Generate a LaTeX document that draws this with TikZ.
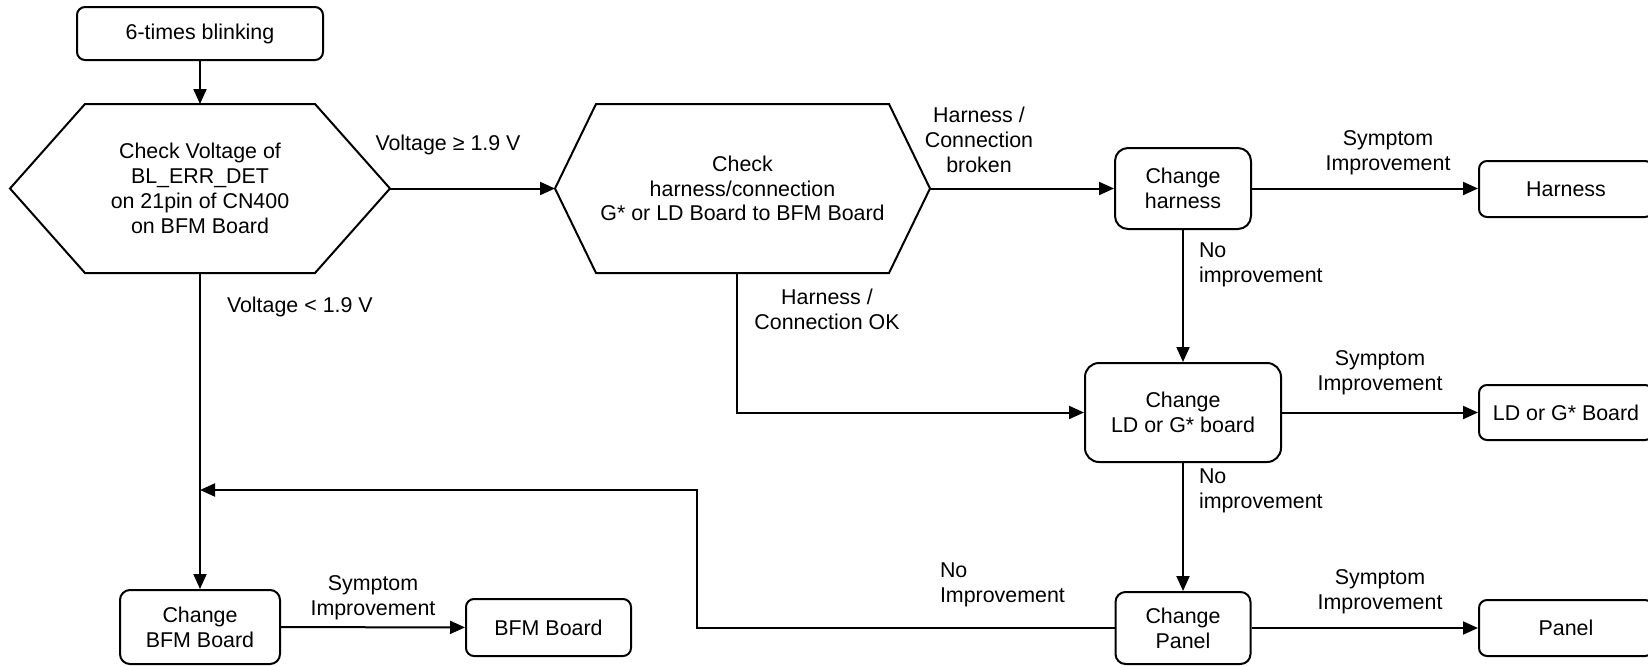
\documentclass[tikz,border=0pt]{standalone}
\usepackage{fontspec}
\setmainfont{Liberation Sans}
\usetikzlibrary{arrows.meta,calc}
\begin{document}
\begin{tikzpicture}[x=0.5pt,y=-0.5pt,
  font=\fontsize{10.7}{12.4}\selectfont,
  line width=1pt,
  arr/.style={-{Triangle[length=7.5pt,width=6.5pt]}},
  rbox/.style={draw, rounded corners=#1, align=center, inner sep=0pt},
  rbox/.default=4pt,
  lbl/.style={align=center, inner sep=0pt},
  lbll/.style={align=left, inner sep=0pt, anchor=west},
  hexn/.style={align=center, inner sep=0pt},
]
\useasboundingbox (0,0) rectangle (1648,665);
\clip (0,0) rectangle (1648,665);

% nodes
\node[rbox, minimum width=123pt, minimum height=26.5pt] (start) at (200,33.5) {6-times blinking};
\node[hexn, minimum width=189pt, minimum height=83.5pt] (h1) at (200,188.5) {Check Voltage of\\BL\_ERR\_DET\\on 21pin of CN400\\on BFM Board};
\draw (h1.west) -- ($(h1.north west)+(75,0)$) -- ($(h1.north east)+(-75,0)$) -- (h1.east)
  -- ($(h1.south east)+(-75,0)$) -- ($(h1.south west)+(75,0)$) -- cycle;
\node[hexn, minimum width=186.5pt, minimum height=83.5pt] (h2) at (742.5,188.5) {Check\\harness/connection\\G* or LD Board to BFM Board};
\draw (h2.west) -- ($(h2.north west)+(41,0)$) -- ($(h2.north east)+(-41,0)$) -- (h2.east)
  -- ($(h2.south east)+(-41,0)$) -- ($(h2.south west)+(41,0)$) -- cycle;

\node[rbox=6.5pt, minimum width=68pt, minimum height=40.5pt] (chh) at (1183,188.5) {Change\\harness};
\node[rbox, minimum width=87pt, minimum height=28pt] (harness) at (1566,189) {Harness};
\node[rbox=7pt, minimum width=98pt, minimum height=49.5pt] (chld) at (1183,412.5) {Change\\LD or G* board};
\node[rbox, minimum width=87pt, minimum height=27.5pt] (ld) at (1566,412.5) {LD or G* Board};
\node[rbox=5pt, minimum width=80pt, minimum height=37pt] (chbfm) at (200,627) {Change\\BFM Board};
\node[rbox, minimum width=82.5pt, minimum height=28.5pt] (bfm) at (548.5,627.5) {BFM Board};
\node[rbox=5pt, minimum width=67.5pt, minimum height=36pt] (chp) at (1183,628) {Change\\Panel};
\node[rbox, minimum width=87pt, minimum height=28pt] (panel) at (1566,628) {Panel};

% labels
\node[lbl] (l1) at (448,145) {Voltage ≥ 1.9 V};
\node[lbll] (l2) at (226,307) {Voltage < 1.9 V};
\node[lbl] (l3) at (979,140) {Harness /\\Connection\\broken};
\node[lbl] (l4) at (827,309.5) {Harness /\\Connection OK};
\node[lbl] (l5) at (1388,153) {Symptom\\Improvement};
\node[lbll] (l6) at (1198,264.5) {No\\improvement};
\node[lbl] (l7) at (1380,373) {Symptom\\Improvement};
\node[lbll] (l8) at (1198,490.5) {No\\improvement};
\node[lbll] (l9) at (939,585) {No\\Improvement};
\node[lbl] (l10) at (373,597.5) {Symptom\\Improvement};
\node[lbl] (l11) at (1380,591.5) {Symptom\\Improvement};

% connectors
\coordinate (j) at (200,490);
\coordinate (fb) at (697,490);
\draw[arr] (start) -- (h1);
\draw[arr] (h1.east) -- (h2.west);
\draw[arr] (h2.east) -- (chh.west);
\draw[arr] (chh.east) -- (chh.east -| harness.west);
\draw[arr] (chh) -- (chld);
\draw[arr] ([xshift=-3pt]h2.south) |- (chld.west);
\draw[arr] (chld) -- (ld);
\draw[arr] (chld) -- (chp);
\draw[arr] (chp) -- (panel);
\draw[arr] (h1.south) -- (chbfm.north);
\draw[arr] (chbfm) -- (bfm);
\draw[arr] (chp.west) -| (fb) -- (j);
\end{tikzpicture}
\end{document}
